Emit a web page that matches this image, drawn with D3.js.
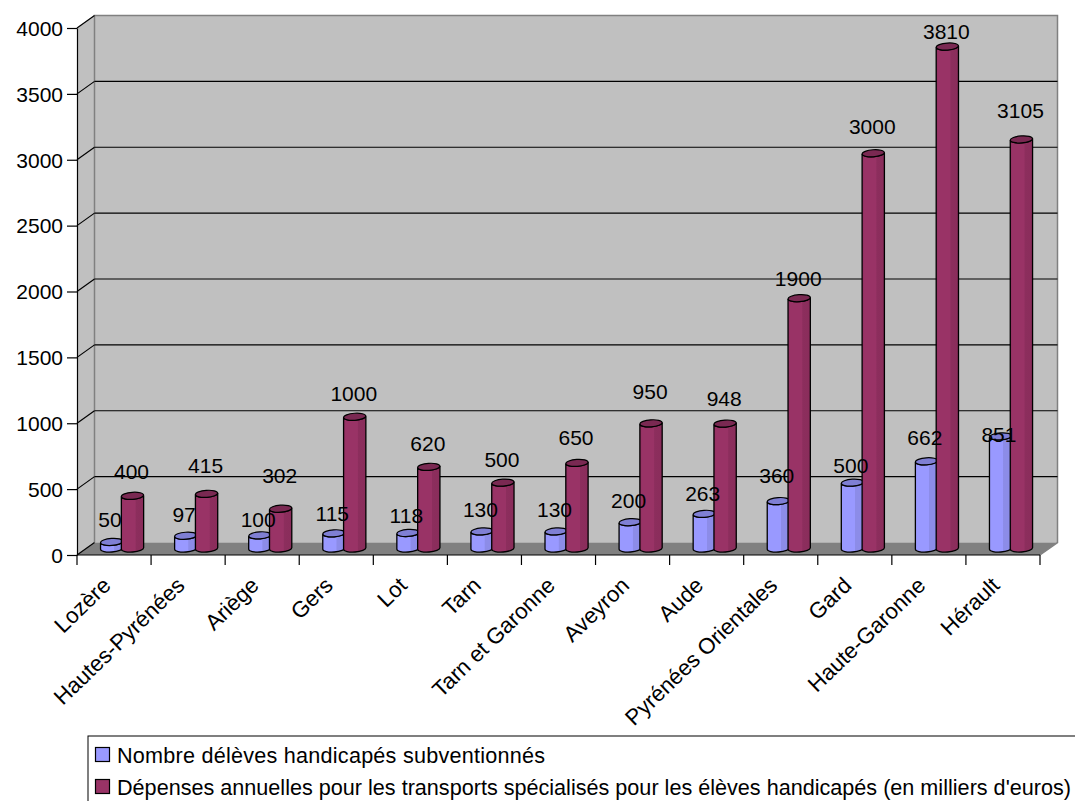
<!DOCTYPE html>
<html><head><meta charset="utf-8">
<script src="https://cdn.jsdelivr.net/npm/d3@7"></script>
<style>html,body{margin:0;padding:0;background:#fff;overflow:hidden}svg{display:block}text{font-family:"Liberation Sans",Arial,sans-serif;fill:#000}</style>
</head><body><svg id="c" width="1075" height="801"></svg>
<script>
const categories=["Lozère","Hautes-Pyrénées","Ariège","Gers","Lot","Tarn","Tarn et Garonne","Aveyron","Aude","Pyrénées Orientales","Gard","Haute-Garonne","Hérault"];
const eleves=[50,97,100,115,118,130,130,200,263,360,500,662,851];
const depenses=[400,415,302,1000,620,500,650,950,948,1900,3000,3810,3105];
const yTicks=[0,500,1000,1500,2000,2500,3000,3500,4000];
const seriesNames=["Nombre délèves handicapés subventionnés","Dépenses annuelles pour les transports spécialisés pour les élèves handicapés (en milliers d'euros)"];
const elevesLift=[22,21,16,20,17,22,22,22,20,25,17,24,2];
const depensesLift=[24,28,33,23,23,23,25,32,25,20,27,15,29];

const svg=d3.select("#c");
const x=d3.scaleBand().domain(categories).range([77,1040]);
const y=d3.scaleLinear().domain([0,4000]).range([555,28]);
const dx=17.5, dy=-12.5;
const barDy=-6.5;
const x0=77,x1=1040;

const defs=svg.append("defs");
function grad(id,stops){const g=defs.append("linearGradient").attr("id",id);
 stops.forEach(s=>g.append("stop").attr("offset",s[0]).attr("stop-color",s[1]));}
grad("gb",[[0,"#9999ff"],[.6,"#9999ff"],[.63,"#8c8ce8"],[.88,"#8c8ce8"],[1,"#9393f4"]]);
grad("gr",[[0,"#8f2f5f"],[.1,"#993366"],[.62,"#993366"],[.66,"#8c2e5d"],[1,"#8a2d5b"]]);

svg.append("polygon").attr("points",[[x0,y(4000)],[x0+dx,y(4000)+dy],[x0+dx,y(0)+dy],[x0,y(0)]].join(" ")).attr("fill","#c0c0c0");
svg.append("rect").attr("x",x0+dx).attr("y",y(4000)+dy).attr("width",x1-x0).attr("height",y(0)-y(4000)).attr("fill","#c0c0c0");
svg.append("polygon").attr("points",[[x0,y(0)],[x0+dx,y(0)+dy],[x1+dx,y(0)+dy],[x1,y(0)]].join(" ")).attr("fill","#808080");
svg.append("path").attr("d",`M${x0+dx},${y(0)+dy}V${y(4000)+dy}H${x1+dx}V${y(0)+dy}L${x1},${y(0)}`).attr("fill","none").attr("stroke","#808080").attr("stroke-width",1.5);

yTicks.forEach(t=>{
 if(t>0&&t<4000) svg.append("line").attr("x1",x0+dx).attr("x2",x1+dx).attr("y1",y(t)+dy).attr("y2",y(t)+dy).attr("stroke","#000").attr("stroke-width",1.2);
 svg.append("line").attr("x1",x0).attr("x2",x0+dx).attr("y1",y(t)).attr("y2",y(t)+dy).attr("stroke","#000").attr("stroke-width",1.2);
});

const yAxis=d3.axisLeft(y).tickValues(yTicks).tickSize(10).tickSizeOuter(0).tickFormat(d3.format("d"));
const gy=svg.append("g").attr("transform",`translate(${x0},0)`).call(yAxis);
gy.selectAll("line").attr("stroke","#000").attr("stroke-width",1.2);
gy.select(".domain").attr("stroke","#000").attr("stroke-width",1.2);
gy.selectAll("text").attr("font-size",21).attr("x",-14).attr("dy",".35em");

const xb=svg.append("g");
xb.append("line").attr("x1",x0).attr("x2",x1).attr("y1",y(0)).attr("y2",y(0)).attr("stroke","#000").attr("stroke-width",1.2);
const edges=d3.range(categories.length+1).map(i=>x0+i*x.bandwidth());
xb.selectAll(".t").data(edges).join("line").attr("x1",d=>d).attr("x2",d=>d).attr("y1",y(0)).attr("y2",y(0)+10).attr("stroke","#000").attr("stroke-width",1.2);
xb.selectAll("text").data(categories).join("text").attr("font-size",22.2).attr("text-anchor","end")
 .attr("transform",d=>`translate(${x(d)+x.bandwidth()/2-2},${y(0)+32}) rotate(-44)`).text(d=>d);

const barW=22.3, ry=3.5, tilt=0.8;
function cyl(vals,fromLeft,gid,top){
 const rows=categories.map((c,i)=>({c,v:vals[i]}));
 const g=svg.append("g").selectAll("g").data(rows).join("g");
 const xl=d=>x(d.c)+x.bandwidth()/2-fromLeft-13.5;
 const ty=d=>y(d.v)+barDy, by=y(0)+barDy;
 g.append("path").attr("d",d=>{const a=xl(d),b=a+barW,t=ty(d);
   return `M${a},${t+tilt}V${by+tilt}A${barW/2},${ry} -4 0 0 ${b},${by-tilt}V${t-tilt}A${barW/2},${ry} -4 0 1 ${a},${t+tilt}Z`;})
  .attr("fill",`url(#${gid})`).attr("stroke","#000").attr("stroke-width",1.3);
 g.append("ellipse").attr("rx",barW/2).attr("ry",ry)
  .attr("transform",d=>`translate(${xl(d)+barW/2},${ty(d)}) rotate(-4)`)
  .attr("fill",top).attr("stroke","#000").attr("stroke-width",1.2);
}
cyl(eleves,0,"gb","#7f7fd4");
cyl(depenses,-barW+1.5,"gr","#7a2952");
function labels(vals,lifts,off){
 svg.append("g").selectAll("text").data(vals).join("text").attr("font-size",21).attr("text-anchor","middle").attr("dy",".35em")
  .attr("x",(d,i)=>x(categories[i])+x.bandwidth()/2+off)
  .attr("y",(d,i)=>y(d)+barDy-lifts[i]).text(d=>d);
}
labels(eleves,elevesLift,-4);
labels(depenses,depensesLift,17.5);

svg.append("rect").attr("x",88).attr("y",736).attr("width",1100).attr("height",100).attr("fill","#fff").attr("stroke","#000").attr("stroke-width",1);
const colors=["#9999ff","#993366"];
const legendWidths=[428,954];
seriesNames.forEach((n,i)=>{
 const ly=755+i*32;
 svg.append("rect").attr("x",95.5).attr("y",ly-7.5).attr("width",14).attr("height",14).attr("fill",colors[i]).attr("stroke","#000").attr("stroke-width",1.2);
 svg.append("text").attr("x",117).attr("y",ly).attr("dy",".35em").attr("font-size",21.6).attr("textLength",legendWidths[i]).text(n);
});
</script></body></html>
